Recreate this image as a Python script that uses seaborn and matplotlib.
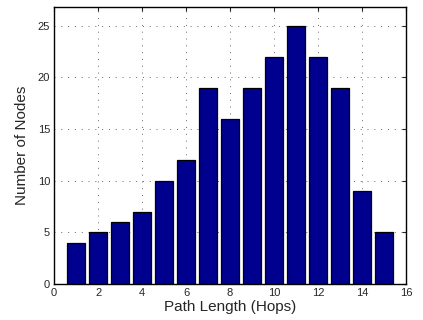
import matplotlib
matplotlib.use("Agg")
import matplotlib.pyplot as plt
import seaborn as sns
import pandas as pd

hops = [1, 2, 3, 4, 5, 6, 7, 8, 9, 10, 11, 12, 13, 14, 15]
nodes = [4, 5, 6, 7, 10, 12, 19, 16, 19, 22, 25, 22, 19, 9, 5]
xticks = [0, 2, 4, 6, 8, 10, 12, 14, 16]
yticks = [0, 5, 10, 15, 20, 25]

sns.set_style("white")
plt.rcParams['font.family'] = ['Liberation Sans', 'DejaVu Sans']

df = pd.DataFrame({"hops": hops, "nodes": nodes})

fig = plt.figure(figsize=(4.23, 3.2), dpi=100)
ax = fig.add_axes([0.128, 0.1125, 0.832, 0.8655])
sns.barplot(data=df, x="hops", y="nodes", native_scale=True, width=0.8,
            color="#00008F", saturation=1, edgecolor="black", linewidth=0.9, ax=ax)
ax.set_xlim(0, 16)
ax.set_ylim(0, 26.8)
ax.set_xticks(xticks)
ax.set_xticklabels([str(t) for t in xticks])
ax.set_yticks(yticks)
ax.set_yticklabels([str(t) for t in yticks])
ax.grid(True, linestyle=(0, (1, 6)), color="#666666", linewidth=0.7)
ax.set_axisbelow(True)
ax.tick_params(direction="in", length=3, width=0.8, labelsize=8, top=True, right=True, pad=3)
for s in ax.spines.values():
    s.set_visible(True)
    s.set_color("black")
    s.set_linewidth(1.0)
ax.set_xlabel("Path Length (Hops)", fontsize=11, labelpad=1)
ax.set_ylabel("Number of Nodes", fontsize=11, labelpad=6)
fig.savefig("out.png", dpi=100)
